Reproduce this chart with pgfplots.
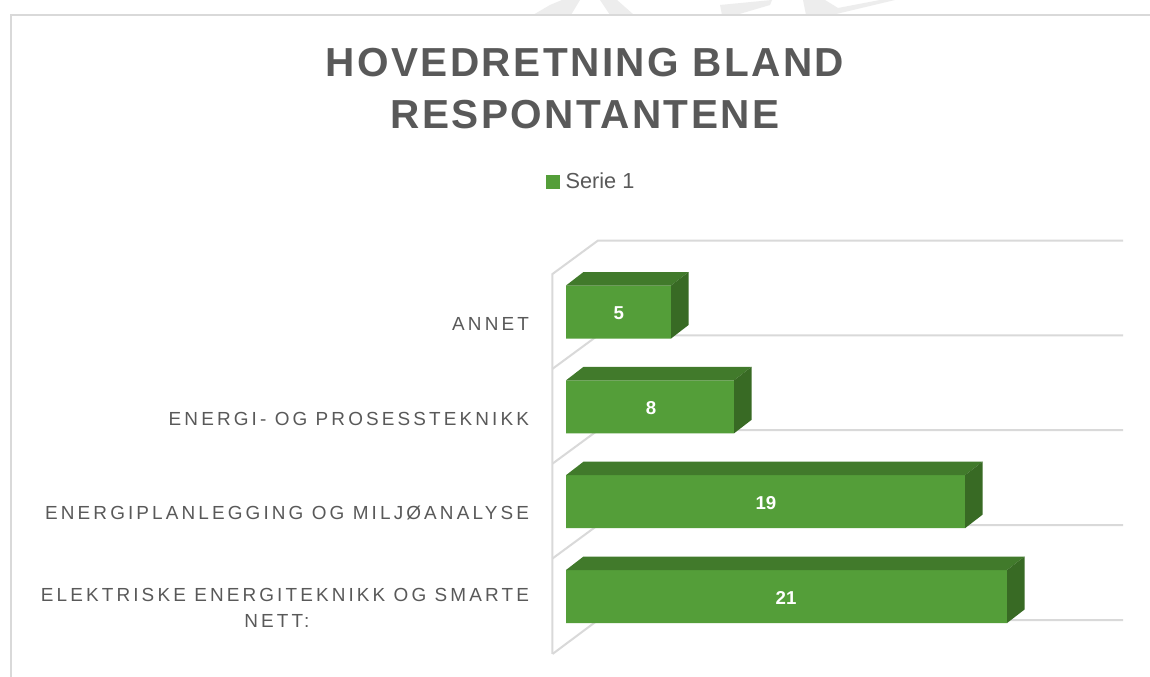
\documentclass[border=0pt]{standalone}
\usepackage{pgfplots}
\pgfplotsset{compat=1.18}
\usepackage{fontspec}
\setmainfont{Liberation Sans}
\newfontfamily\titlefont[LetterSpace=6]{Liberation Sans}
\newfontfamily\catfont[LetterSpace=16.5]{Liberation Sans}
\definecolor{barfront}{HTML}{549E39}
\definecolor{bartop}{HTML}{417A2B}
\definecolor{barside}{HTML}{386A24}
\definecolor{gridc}{HTML}{D9D9D9}
\definecolor{textc}{HTML}{595959}
\begin{document}
\begin{tikzpicture}[x=0.75pt,y=0.75pt]
\path[use as bounding box,fill=white] (0,0) rectangle (1150,677);
% faint watermark above the frame
\fill[black!7] (533,662) -- (550,672) -- (562,677) -- (580,677) -- (571,662) -- cycle;
\fill[black!7] (600,677) -- (617,677) -- (634,662) -- (610,662) -- cycle;
\fill[black!7] (722,662) -- (720,672) -- (772,677) -- (770,672) -- (736,662) -- cycle;
\fill[black!7] (803,677) -- (825,677) -- (838,669) -- (880,677) -- (895,677) -- (832,662) -- (806,662) -- cycle;
% frame
\draw[gridc,line width=1.5pt] (10.5,0) -- (10.5,661.5) -- (1150,661.5);
\begin{axis}[
  anchor=south west, at={(414.375pt,17.25pt)},
  scale only axis, width=427.9pt, height=310.1pt,
  xmin=-0.643, xmax=26.524, ymin=-0.606, ymax=3.754,
  clip=false,
  axis line style={draw=none},
  xtick=\empty,
  ytick={0,1,2,3},
  yticklabels={{ELEKTRISKE ENERGITEKNIKK OG SMARTE\\NETT:\hspace*{12pt}},
    ENERGIPLANLEGGING OG MILJØANALYSE,
    ENERGI- OG PROSESSTEKNIKK, ANNET},
  major tick length=0pt,
  yticklabel style={font=\catfont\fontsize{14.2pt}{19.5pt}\selectfont,
    text=textc, align=center, inner sep=0pt, xshift=-17.5pt, yshift=-8.75pt},
  title={HOVEDRETNING BLAND\\RESPONTANTENE},
  title style={at={(axis description cs:0.057,1.348)}, anchor=center,
    align=center, text=textc, inner sep=0pt,
    font=\titlefont\bfseries\fontsize{30.4pt}{39.4pt}\selectfont},
  legend style={at={(axis description cs:0.0683,1.1415)}, anchor=center,
    draw=none, fill=none, font=\fontsize{16.3pt}{19pt}\selectfont, text=textc,
    inner sep=0pt, legend cell align=left},
  legend image code/.code={\fill[barfront] (0pt,-5.2pt) rectangle (10.5pt,5.2pt);\path (12.75pt,0pt);},
]
% walls and grid
\addplot[gridc,line width=1.5pt,forget plot] coordinates {(-0.643,-0.606) (-0.643,3.401) (1.524,3.754) (26.524,3.754)};
\addplot[gridc,line width=1.5pt,forget plot] coordinates {(-0.643,-0.606) (1.524,-0.248) (26.524,-0.248)};
\addplot[gridc,line width=1.5pt,forget plot] coordinates {(-0.643,0.401) (1.524,0.754) (26.524,0.754)};
\addplot[gridc,line width=1.5pt,forget plot] coordinates {(-0.643,1.401) (1.524,1.754) (26.524,1.754)};
\addplot[gridc,line width=1.5pt,forget plot] coordinates {(-0.643,2.401) (1.524,2.754) (26.524,2.754)};
% front faces
\addplot[xbar, bar width=39.75pt, fill=barfront, draw=none, bar shift=0pt] coordinates {(21,0) (19,1) (8,2) (5,3)};
\addlegendentry{Serie 1}
% top faces
\addplot[fill=bartop,draw=none,forget plot] coordinates {(0,3.2795) (5,3.2795) (5.833,3.4219) (0.833,3.4219)} --cycle;
\addplot[fill=bartop,draw=none,forget plot] coordinates {(0,2.2795) (8,2.2795) (8.833,2.4219) (0.833,2.4219)} --cycle;
\addplot[fill=bartop,draw=none,forget plot] coordinates {(0,1.2795) (19,1.2795) (19.833,1.4219) (0.833,1.4219)} --cycle;
\addplot[fill=bartop,draw=none,forget plot] coordinates {(0,0.2795) (21,0.2795) (21.833,0.4219) (0.833,0.4219)} --cycle;
% side faces
\addplot[fill=barside,draw=none,forget plot] coordinates {(5,3.2795) (5.833,3.4219) (5.833,2.8629) (5,2.7205)} --cycle;
\addplot[fill=barside,draw=none,forget plot] coordinates {(8,2.2795) (8.833,2.4219) (8.833,1.8629) (8,1.7205)} --cycle;
\addplot[fill=barside,draw=none,forget plot] coordinates {(19,1.2795) (19.833,1.4219) (19.833,0.8629) (19,0.7205)} --cycle;
\addplot[fill=barside,draw=none,forget plot] coordinates {(21,0.2795) (21.833,0.4219) (21.833,-0.1371) (21,-0.2795)} --cycle;
% value labels
\addplot[draw=none,mark=none,forget plot,point meta=explicit,
  /pgf/number format/assume math mode=true,
  nodes near coords,
  every node near coord/.style={anchor=center,inner sep=0pt,text=white,yshift=-1pt,
    font=\bfseries\fontsize{14pt}{16pt}\selectfont}]
  coordinates {(2.52,3)[5] (4.05,2)[8] (9.52,1)[19] (10.48,0)[21]};
\end{axis}
\end{tikzpicture}
\end{document}
